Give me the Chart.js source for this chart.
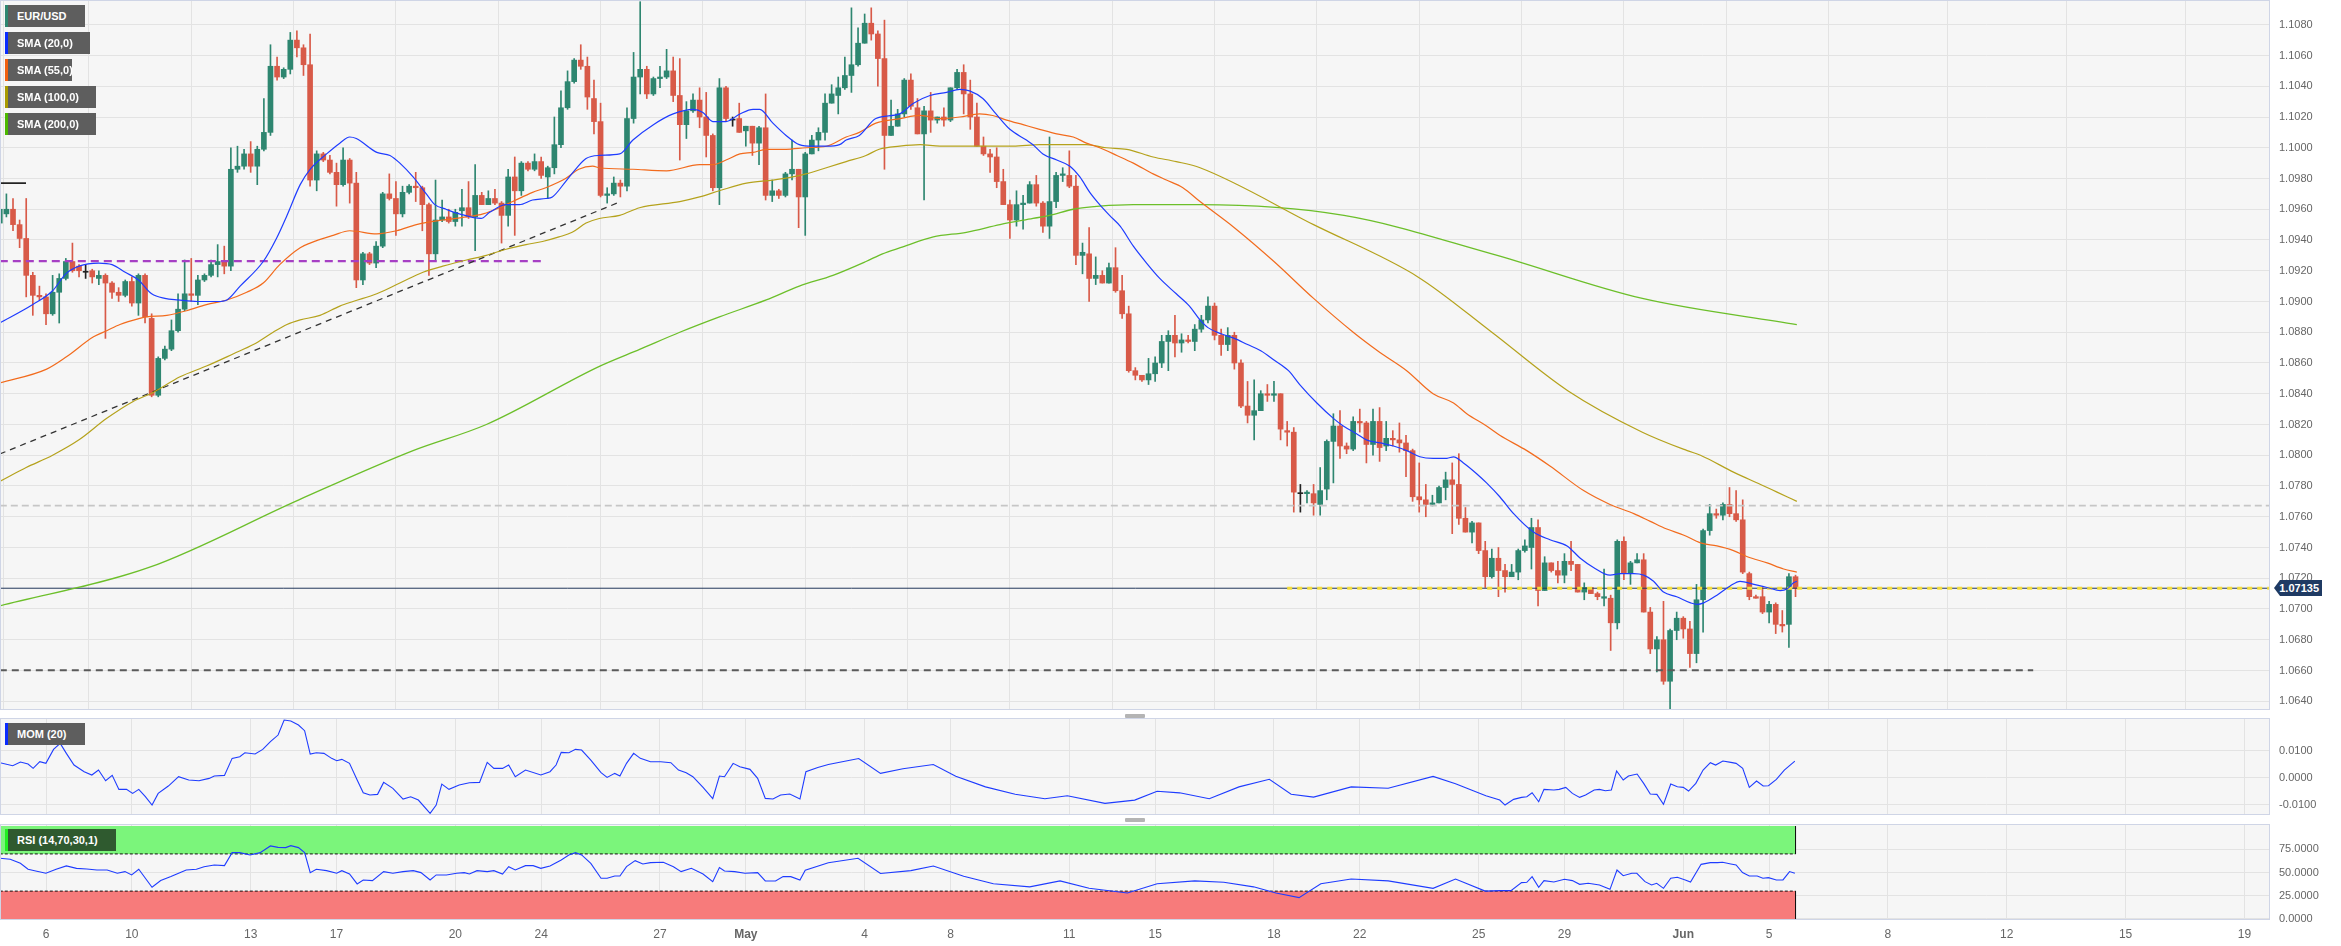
<!DOCTYPE html>
<html><head><meta charset="utf-8">
<script src="https://cdn.jsdelivr.net/npm/chart.js@4.4.0/dist/chart.umd.min.js"></script>
<style>
body{margin:0;background:#fff;width:2341px;height:946px;overflow:hidden;position:relative;font-family:"Liberation Sans",Arial,sans-serif}
canvas{position:absolute;left:0}
.tag{position:absolute;left:5px;height:22px;line-height:22px;background:#5e5e5e;color:#fff;font-size:11px;font-weight:bold;padding:0 12px 0 12px;box-sizing:border-box;white-space:nowrap}
.tag i{position:absolute;left:0;top:0;width:3px;height:100%}
.handle{position:absolute;width:20px;height:4px;background:#b4b4b4;border-radius:1px}
#ptag{position:absolute;left:2274px;top:580px;width:48px;height:16px;background:#1f3a63;color:#fff;font-size:11px;font-weight:bold;line-height:16px;text-align:right;padding-right:3px;box-sizing:border-box;clip-path:polygon(0 50%,6px 0,100% 0,100% 100%,6px 100%)}
</style></head><body>
<canvas id="c1" width="2341" height="710" style="top:0"></canvas>
<canvas id="c2" width="2341" height="97" style="top:718px"></canvas>
<canvas id="c3" width="2341" height="122" style="top:824px"></canvas>

<div class="tag" style="top:5px;width:80px"><i style="background:#2e8670"></i>EUR/USD</div>
<div class="tag" style="top:32px;width:85px"><i style="background:#0a2cff"></i>SMA (20,0)</div>
<div class="tag" style="top:59px;width:67px"><i style="background:#f06010"></i>SMA (55,0)</div>
<div class="tag" style="top:86px;width:91px"><i style="background:#a89a00"></i>SMA (100,0)</div>
<div class="tag" style="top:113px;width:91px"><i style="background:#4cb800"></i>SMA (200,0)</div>
<div class="tag" style="top:723px;width:80px"><i style="background:#0a2cff"></i>MOM (20)</div>
<div class="tag" style="top:829px;width:111px;background:#2f5a2f"><i style="background:#22ee22"></i>RSI (14,70,30,1)</div>
<div class="handle" style="left:1125px;top:714px"></div>
<div class="handle" style="left:1125px;top:818px"></div>
<div id="ptag">1.07135</div>

<script>
// ---------- categories / x axis ----------
const candleStart = -7;            // index of first visible 4h candle (0 = 6 Apr 00:00)
const xLabelIdx  = [0,13,31,44,62,75,93,106,124,137,155,168,186,199,217,230,248,261,279,297,315,333];
const xLabelText = ['6','10','13','17','20','24','27','May','4','8','11','15','18','22','25','29','Jun','5','8','12','15','19'];
const boldLabels = ['May','Jun'];

// ---------- tick labels ----------
const priceTicks = [1.0640,1.0660,1.0680,1.0700,1.0720,1.0740,1.0760,1.0780,1.0800,1.0820,1.0840,1.0860,1.0880,1.0900,1.0920,1.0940,1.0960,1.0980,1.1000,1.1020,1.1040,1.1060,1.1080];
const momTicks = [-0.01, 0, 0.01];
const rsiTicks = [0, 25, 50, 75];

// ---------- EUR/USD 4h OHLC ----------
const opens = [1.0951,1.0957,1.0960,1.0950,1.0941,1.0917,1.0904,1.0903,1.0892,1.0906,1.0915,1.0926,1.0923,1.0919,1.0920,1.0915,1.0917,1.0912,1.0906,1.0904,1.0913,1.0899,1.0917,1.0889,1.0839,1.0863,1.0869,1.0881,1.0895,1.0905,1.0904,1.0914,1.0917,1.0924,1.0926,1.0923,1.0986,1.0988,1.0996,1.0988,1.0999,1.1010,1.1053,1.1046,1.1051,1.1070,1.1065,1.1054,1.0979,1.0996,1.0992,1.0984,1.0976,1.0992,1.0977,1.0914,1.0931,1.0925,1.0936,1.0970,1.0967,1.0957,1.0971,1.0975,1.0974,1.0963,1.0931,1.0953,1.0955,1.0952,1.0959,1.0961,1.0955,1.0969,1.0963,1.0967,1.0964,1.0956,1.0981,1.0972,1.0990,1.0986,1.0991,1.0981,1.0987,1.1002,1.1026,1.1043,1.1057,1.1053,1.1032,1.1017,1.0969,1.0970,1.0977,1.0975,1.1019,1.1046,1.1051,1.1035,1.1045,1.1046,1.1050,1.1034,1.1015,1.1024,1.1031,1.1020,1.1008,1.0974,1.1039,1.1018,1.1019,1.1011,1.1014,1.1003,1.1013,1.0969,1.0972,1.0969,1.0983,1.0986,1.0968,1.0996,1.1005,1.1010,1.1029,1.1034,1.1039,1.1047,1.1054,1.1068,1.1081,1.1074,1.1058,1.1008,1.1014,1.1022,1.1044,1.1026,1.1009,1.1024,1.1018,1.1020,1.1018,1.1039,1.1049,1.1035,1.1020,1.1001,1.0996,1.0994,1.0978,1.0963,1.0953,1.0963,1.0964,1.0976,1.0964,1.0949,1.0965,1.0982,1.0982,1.0975,1.0930,1.0931,1.0915,1.0917,1.0912,1.0922,1.0907,1.0892,1.0855,1.0852,1.0849,1.0853,1.0860,1.0874,1.0878,1.0873,1.0875,1.0874,1.0882,1.0888,1.0897,1.0878,1.0872,1.0878,1.0860,1.0832,1.0826,1.0829,1.0840,1.0839,1.0840,1.0816,1.0815,1.0775,1.0775,1.0775,1.0768,1.0778,1.0809,1.0819,1.0806,1.0804,1.0822,1.0821,1.0807,1.0822,1.0806,1.0811,1.0810,1.0808,1.0803,1.0773,1.0771,1.0768,1.0769,1.0779,1.0784,1.0781,1.0759,1.0750,1.0756,1.0738,1.0721,1.0733,1.0725,1.0721,1.0724,1.0738,1.0740,1.0753,1.0712,1.0730,1.0725,1.0722,1.0731,1.0729,1.0711,1.0714,1.0710,1.0707,1.0707,1.0691,1.0744,1.0723,1.0730,1.0732,1.0698,1.0674,1.0680,1.0653,1.0686,1.0694,1.0687,1.0671,1.0706,1.0751,1.0762,1.0761,1.0768,1.0762,1.0758,1.0723,1.0708,1.0708,1.0698,1.0703,1.0690,1.0690,1.0721];
const highs = [1.0962,1.0970,1.0967,1.0953,1.0967,1.0919,1.0910,1.0905,1.0917,1.0918,1.0928,1.0938,1.0924,1.0924,1.0921,1.0920,1.0918,1.0913,1.0909,1.0914,1.0916,1.0918,1.0918,1.0892,1.0864,1.0871,1.0888,1.0905,1.0927,1.0928,1.0917,1.0918,1.0927,1.0937,1.0936,1.1000,1.1001,1.0999,1.1004,1.1001,1.1032,1.1067,1.1059,1.1052,1.1075,1.1076,1.1067,1.1074,1.0998,1.0997,1.0995,1.0990,1.1000,1.0993,1.0984,1.0932,1.0932,1.0939,1.0971,1.0983,1.0978,1.0975,1.0976,1.0984,1.0975,1.0964,1.0979,1.0966,1.0960,1.0960,1.0973,1.0978,1.0989,1.0971,1.0972,1.0973,1.0965,1.0986,1.0994,1.0991,1.0991,1.0996,1.0994,1.0988,1.1020,1.1037,1.1050,1.1058,1.1067,1.1059,1.1044,1.1029,1.0974,1.0981,1.0979,1.1026,1.1062,1.1095,1.1053,1.1046,1.1053,1.1064,1.1059,1.1058,1.1030,1.1035,1.1039,1.1036,1.1009,1.1045,1.1040,1.1020,1.1029,1.1014,1.1014,1.1014,1.1035,1.0979,1.0973,1.0984,1.1005,1.0986,1.0997,1.1008,1.1013,1.1035,1.1041,1.1046,1.1059,1.1091,1.1078,1.1087,1.1091,1.1076,1.1083,1.1031,1.1025,1.1045,1.1048,1.1032,1.1027,1.1036,1.1020,1.1026,1.1039,1.1051,1.1054,1.1044,1.1029,1.1007,1.0999,1.1000,1.0986,1.0966,1.0972,1.0969,1.0978,1.0982,1.0965,1.1007,1.0984,1.0987,1.0998,1.0982,1.0938,1.0948,1.0929,1.0920,1.0925,1.0935,1.0917,1.0897,1.0857,1.0852,1.0863,1.0864,1.0878,1.0881,1.0891,1.0879,1.0878,1.0885,1.0891,1.0903,1.0899,1.0882,1.0883,1.0880,1.0862,1.0848,1.0849,1.0842,1.0846,1.0848,1.0840,1.0822,1.0818,1.0781,1.0777,1.0781,1.0792,1.0810,1.0827,1.0829,1.0808,1.0825,1.0830,1.0822,1.0830,1.0831,1.0822,1.0816,1.0821,1.0813,1.0804,1.0795,1.0781,1.0774,1.0780,1.0789,1.0795,1.0801,1.0766,1.0757,1.0756,1.0744,1.0739,1.0740,1.0729,1.0729,1.0739,1.0745,1.0759,1.0758,1.0734,1.0730,1.0731,1.0736,1.0744,1.0729,1.0717,1.0714,1.0711,1.0726,1.0709,1.0745,1.0747,1.0731,1.0736,1.0736,1.0701,1.0682,1.0705,1.0687,1.0698,1.0695,1.0692,1.0716,1.0752,1.0768,1.0765,1.0769,1.0779,1.0777,1.0771,1.0724,1.0709,1.0714,1.0705,1.0704,1.0699,1.0723,1.0722];
const lows = [1.0950,1.0955,1.0946,1.0935,1.0903,1.0891,1.0901,1.0885,1.0891,1.0886,1.0914,1.0919,1.0916,1.0915,1.0912,1.0911,1.0876,1.0902,1.0900,1.0903,1.0897,1.0891,1.0886,1.0838,1.0838,1.0862,1.0868,1.0880,1.0894,1.0900,1.0898,1.0913,1.0916,1.0916,1.0918,1.0920,1.0984,1.0986,1.0984,1.0976,1.0998,1.1008,1.1044,1.1045,1.1048,1.1059,1.1047,1.0975,1.0972,1.0991,1.0983,1.0962,1.0975,1.0964,1.0909,1.0911,1.0924,1.0922,1.0935,1.0966,1.0943,1.0955,1.0970,1.0965,1.0946,1.0917,1.0927,1.0952,1.0951,1.0949,1.0949,1.0954,1.0933,1.0963,1.0963,1.0963,1.0938,1.0949,1.0943,1.0969,1.0985,1.0985,1.0980,1.0967,1.0983,1.1000,1.1025,1.1042,1.1051,1.1025,1.1009,1.0968,1.0964,1.0969,1.0968,1.0972,1.1016,1.1035,1.1032,1.1034,1.1039,1.1045,1.1030,1.0992,1.1006,1.1023,1.1013,1.0994,1.0972,1.0963,1.1017,1.1014,1.1010,1.1001,1.0995,1.0989,1.0966,1.0965,1.0967,1.0968,1.0979,1.0948,1.0943,1.0996,1.0998,1.1005,1.1029,1.1022,1.1038,1.1036,1.1053,1.1068,1.1070,1.1040,1.0986,1.1008,1.1014,1.1020,1.1025,1.1009,1.0966,1.1010,1.1016,1.1014,1.1017,1.1038,1.1022,1.1012,1.1001,1.0995,1.0984,1.0974,1.0963,1.0941,1.0949,1.0947,1.0964,1.0962,1.0945,1.0941,1.0961,1.0978,1.0974,1.0924,1.0918,1.0900,1.0911,1.0912,1.0912,1.0906,1.0889,1.0854,1.0849,1.0848,1.0846,1.0848,1.0857,1.0855,1.0864,1.0867,1.0873,1.0868,1.0880,1.0886,1.0875,1.0865,1.0868,1.0856,1.0831,1.0821,1.0810,1.0829,1.0835,1.0835,1.0810,1.0806,1.0763,1.0763,1.0769,1.0761,1.0761,1.0771,1.0782,1.0798,1.0801,1.0803,1.0815,1.0795,1.0800,1.0796,1.0803,1.0806,1.0802,1.0786,1.0770,1.0763,1.0760,1.0767,1.0769,1.0771,1.0749,1.0755,1.0750,1.0743,1.0736,1.0714,1.0720,1.0708,1.0711,1.0721,1.0719,1.0737,1.0726,1.0702,1.0712,1.0724,1.0717,1.0717,1.0725,1.0711,1.0706,1.0710,1.0706,1.0702,1.0673,1.0687,1.0719,1.0716,1.0730,1.0698,1.0671,1.0659,1.0651,1.0635,1.0680,1.0681,1.0662,1.0665,1.0685,1.0748,1.0759,1.0758,1.0760,1.0757,1.0723,1.0706,1.0707,1.0697,1.0691,1.0684,1.0685,1.0675,1.0708];
const closes = [1.0960,1.0960,1.0950,1.0941,1.0917,1.0904,1.0903,1.0892,1.0906,1.0915,1.0926,1.0920,1.0920,1.0919,1.0916,1.0917,1.0912,1.0906,1.0904,1.0913,1.0899,1.0917,1.0890,1.0839,1.0863,1.0869,1.0881,1.0895,1.0905,1.0904,1.0914,1.0917,1.0924,1.0926,1.0923,1.0986,1.0988,1.0996,1.0988,1.0999,1.1010,1.1053,1.1046,1.1051,1.1070,1.1065,1.1054,1.0979,1.0996,1.0992,1.0984,1.0976,1.0992,1.0977,1.0914,1.0931,1.0925,1.0936,1.0970,1.0967,1.0957,1.0971,1.0975,1.0974,1.0963,1.0931,1.0953,1.0955,1.0952,1.0958,1.0961,1.0955,1.0969,1.0963,1.0967,1.0964,1.0956,1.0981,1.0972,1.0990,1.0986,1.0991,1.0982,1.0987,1.1002,1.1026,1.1043,1.1057,1.1053,1.1033,1.1017,1.0969,1.0970,1.0977,1.0975,1.1019,1.1046,1.1051,1.1035,1.1045,1.1046,1.1050,1.1034,1.1015,1.1024,1.1031,1.1020,1.1008,1.0974,1.1039,1.1019,1.1018,1.1010,1.1014,1.1003,1.1013,1.0969,1.0972,1.0969,1.0983,1.0986,1.0968,1.0996,1.1005,1.1010,1.1029,1.1035,1.1039,1.1047,1.1054,1.1068,1.1081,1.1074,1.1058,1.1008,1.1014,1.1022,1.1044,1.1027,1.1009,1.1024,1.1018,1.1020,1.1018,1.1039,1.1049,1.1035,1.1020,1.1001,1.0996,1.0994,1.0978,1.0963,1.0953,1.0963,1.0964,1.0976,1.0964,1.0949,1.0965,1.0982,1.0983,1.0975,1.0930,1.0932,1.0915,1.0917,1.0912,1.0922,1.0907,1.0892,1.0855,1.0852,1.0849,1.0853,1.0860,1.0874,1.0878,1.0873,1.0875,1.0874,1.0882,1.0888,1.0897,1.0878,1.0872,1.0878,1.0860,1.0832,1.0826,1.0829,1.0840,1.0839,1.0840,1.0817,1.0815,1.0776,1.0775,1.0776,1.0769,1.0777,1.0809,1.0819,1.0806,1.0804,1.0822,1.0821,1.0807,1.0822,1.0805,1.0811,1.0810,1.0808,1.0803,1.0773,1.0771,1.0768,1.0769,1.0779,1.0784,1.0781,1.0759,1.0750,1.0756,1.0738,1.0721,1.0733,1.0725,1.0721,1.0724,1.0738,1.0741,1.0753,1.0712,1.0730,1.0725,1.0722,1.0731,1.0729,1.0711,1.0714,1.0710,1.0708,1.0708,1.0691,1.0744,1.0723,1.0730,1.0732,1.0698,1.0674,1.0680,1.0653,1.0686,1.0694,1.0687,1.0671,1.0706,1.0751,1.0762,1.0761,1.0768,1.0762,1.0758,1.0724,1.0708,1.0707,1.0698,1.0703,1.0690,1.0689,1.0721,1.07135];

// ---------- moving averages (read at sample positions) ----------
const sma20X = [-7,-2,1,3,5,8,10,12,14,16,18,20,23,26,27.4,29.4,32.9,34.9,36.5,38.5,40,42.5,44.5,46,47,50.1,52.1,53.6,55.6,57.6,58.9,60.6,62.6,65.9,67.2,69.7,71.7,73.7,75.7,76.7,78.7,80.2,81.8,83.8,86.9,88.9,92,95,98,99.5,101,103,105.1,107.1,108.1,110.1,112.1,114.1,116.1,118.2,120.2,121.2,123.2,125.7,129.3,131.4,133.9,136.4,138.4,139.9,141.9,143.9,146,148.5,149.5,151,153.1,155.1,156.6,158.1,159.6,161.1,162.7,164.7,166.7,168.7,171.2,173.2,174.8,176,178,180,182,184,186,188.2,189.9,192.5,195,196.5,198.5,200,202.1,204.1,206.1,208.1,210.1,212.2,213.2,214.7,216.7,218.2,220.2,222.3,225.3,227.8,230.4,232.4,234.4,236.9,238.5,240.5,242,243.5,245,247,249.1,250.1,251.1,253.1,255.1,256.6,258.7,260.7,262.7,263.7,264.7,265.2];
const sma20Y = [1.0886,1.0898,1.0907,1.0918,1.0923,1.0925,1.0924,1.0919,1.0914,1.0905,1.0902,1.0901,1.0900,1.0900,1.0901,1.0910,1.0926,1.0941,1.0956,1.0976,1.0986,1.0996,1.1003,1.1007,1.1006,1.0997,1.0995,1.0990,1.0981,1.0970,1.0963,1.0960,1.0957,1.0954,1.0958,1.0963,1.0963,1.0966,1.0967,1.0968,1.0978,1.0986,1.0993,1.0995,1.0996,1.1005,1.1015,1.1022,1.1025,1.1023,1.1017,1.1017,1.1022,1.1025,1.1025,1.1016,1.1008,1.1002,1.1001,1.1001,1.1002,1.1005,1.1008,1.1019,1.1022,1.1029,1.1034,1.1036,1.1038,1.1037,1.1032,1.1022,1.1012,1.1005,1.1002,1.0996,1.0992,1.0988,1.0981,1.0971,1.0963,1.0956,1.0949,1.0936,1.0925,1.0915,1.0905,1.0897,1.0888,1.0883,1.0879,1.0876,1.0872,1.0868,1.0862,1.0855,1.0846,1.0834,1.0824,1.0819,1.0814,1.0810,1.0808,1.0806,1.0803,1.0799,1.0798,1.0798,1.0799,1.0795,1.0788,1.0782,1.0773,1.0762,1.0750,1.0745,1.0741,1.0733,1.0727,1.0722,1.0723,1.0723,1.0722,1.0718,1.0711,1.0708,1.0704,1.0703,1.0704,1.0709,1.0715,1.0718,1.0716,1.0714,1.0712,1.0713,1.0717,1.0718];
const sma55X = [-7,0.1,3.1,7.2,9.2,11.2,14.2,15.2,18.3,21.3,24.3,27.4,30.4,32.9,35.4,38.5,40,43.5,46,50.1,53.1,56.1,60.1,63.7,66.2,68.7,70.7,73.7,75.7,78.7,80.7,82.8,83.8,88.9,94,99,101,103,105.1,107.1,109.1,112.1,115.1,118.2,121.2,123.2,125.7,129.4,132.4,135.4,138.4,141.4,143.4,145.5,148,150.5,153.1,155.6,157.6,159.6,162.2,164.7,167.7,169.7,172.2,174.8,180,186,192,198,202,206.1,210.1,213.2,215.2,218.2,220.2,224.3,227.8,232.9,236.9,240.5,243,245.5,248.1,250.6,253.1,255.6,257.7,260.7,263.2,265.2];
const sma55Y = [1.0847,1.0856,1.0864,1.0877,1.0881,1.0885,1.0889,1.0890,1.0891,1.0894,1.0898,1.0901,1.0906,1.0912,1.0924,1.0935,1.0938,1.0943,1.0946,1.0944,1.0946,1.0950,1.0953,1.0955,1.0957,1.0961,1.0965,1.0971,1.0974,1.0980,1.0986,1.0988,1.0987,1.0986,1.0985,1.0989,1.0989,1.0992,1.0996,1.0997,1.0999,1.0999,1.1000,1.1001,1.1007,1.1010,1.1016,1.1019,1.1021,1.1019,1.1020,1.1022,1.1021,1.1018,1.1015,1.1012,1.1009,1.1007,1.1003,1.1000,1.0995,1.0990,1.0983,1.0979,1.0974,1.0965,1.0948,1.0926,1.0902,1.0880,1.0867,1.0855,1.0840,1.0834,1.0827,1.0819,1.0813,1.0803,1.0793,1.0777,1.0768,1.0762,1.0757,1.0752,1.0748,1.0743,1.0741,1.0738,1.0734,1.0730,1.0726,1.0724];
const sma100X = [-7,-3,1,5,9.2,13.2,16.3,20.3,24.3,28.4,31.4,34.4,36.5,38.5,41.5,44.5,46.5,50.1,53.6,57.1,60.1,63.7,66.7,69.7,72.7,75.2,77.7,79.7,81.8,83.8,86.9,89.9,96,99,102,106.1,110.1,113.1,115.1,118.2,121.2,124.2,126.2,129.3,132.4,135.4,139.4,142.4,146.5,150.5,154.6,157.6,160.6,163.7,167.7,171.2,174.8,192,207.8,219,230.5,241.8,248.6,250.6,255.6,259.7,262.2,263.7,265.2];
const sma100Y = [1.0783,1.0792,1.0800,1.0810,1.0824,1.0835,1.0841,1.0851,1.0858,1.0866,1.0872,1.0880,1.0885,1.0888,1.0891,1.0897,1.0900,1.0905,1.0912,1.0919,1.0923,1.0927,1.0930,1.0934,1.0937,1.0939,1.0942,1.0945,1.0951,1.0954,1.0956,1.0961,1.0965,1.0968,1.0972,1.0977,1.0979,1.0981,1.0983,1.0987,1.0991,1.0995,1.0999,1.1001,1.1002,1.1001,1.1001,1.1001,1.1001,1.1002,1.1002,1.1002,1.1000,1.0999,1.0994,1.0991,1.0987,1.0950,1.0916,1.0880,1.0842,1.0815,1.0803,1.0800,1.0789,1.0781,1.0776,1.0773,1.0770];
const sma200X = [-7,15.6,38.3,55.6,66.7,83.9,90,96,102,109.1,114.1,119.2,124.2,126.7,129.4,134.4,139.4,144.5,149.5,152,155.6,159.6,164.7,169.7,174.8,196.6,219,241.8,265.2];
const sma200Y = [1.0702,1.0727,1.0771,1.0803,1.0820,1.0858,1.0869,1.0880,1.0890,1.0901,1.0910,1.0917,1.0926,1.0931,1.0935,1.0942,1.0945,1.0950,1.0954,1.0956,1.0960,1.0962,1.0963,1.0963,1.0963,1.0956,1.0931,1.0902,1.0885];

// ---------- MOM(20) ----------
const momX = [-6.97,-5.04,-3.88,-2.72,-1.95,-0.94,-0.02,1.14,2.15,3.08,4.24,5.78,6.94,7.95,9.03,10.03,11.04,12.19,13.12,14.05,15.05,16.06,16.99,18.53,20.08,21.62,23.17,24.71,25.49,27.03,28.19,29.35,30.12,31.67,32.83,33.99,35.15,36.07,37.08,38.24,39.17,40.02,40.94,42.1,43.26,44.03,44.81,45.97,47.13,48.05,49.06,50.22,51.14,52.54,54.08,55.24,56.4,58.18,59.1,59.95,61.04,62.58,64.13,65.67,66.83,67.84,69.15,70.08,71.08,72.63,74.95,76.34,77.26,78.04,79.2,80.2,81.13,82.52,84.07,84.99,86.15,86.93,87.93,89.01,90.02,91.56,93.11,94.65,95.81,96.97,97.98,99.52,100.99,102,102.77,104.08,105.09,106.63,107.79,108.95,110.11,111.27,112.66,114.2,115.1,116.9,118.5,120.8,123.1,126.4,129.8,134.4,137.8,142.3,146.8,151.3,154.7,160.4,164.9,168.3,171.7,176.2,180.7,185.3,188.6,192,197.7,203.3,210.1,213.5,218.1,220.2,221,222.3,223.5,224.3,225.1,226.1,226.9,228.4,229.2,230.2,231.2,232.3,233.2,234.5,235.3,236.2,237.1,237.9,238.9,239.7,241,242,243,244,245,246.1,247.1,248,248.8,249.9,251,252.1,252.9,254,255.2,256,257,258,259.1,260.1,260.9,262.1,263.3,264.9];
const momY = [0.00556,0.00444,0.0058,0.00506,0.00346,0.00593,0.00531,0.01049,0.01272,0.00901,0.00469,0.00222,0.00099,0.00284,-0.00111,0.00086,-0.00432,-0.00432,-0.0058,-0.00432,-0.00704,-0.01012,-0.0058,-0.00309,0.00037,-0.00086,-0.00111,-0.00025,0.00062,0.00086,0.00716,0.00778,0.00926,0.00877,0.01049,0.01333,0.0158,0.02136,0.02099,0.01951,0.01741,0.00877,0.00926,0.00901,0.00716,0.0063,0.00679,0.00531,-0.00086,-0.00556,-0.00642,-0.00617,-0.00173,-0.00395,-0.0079,-0.00704,-0.00827,-0.01321,-0.01012,-0.00235,-0.00432,-0.00272,-0.00185,-0.00173,0.00568,0.00346,0.00346,0.00469,0.00037,0.00284,0.00099,0.00222,0.00469,0.00938,0.00926,0.01049,0.01025,0.00654,0.00185,0.00012,0.0016,0.00062,0.00531,0.00901,0.00716,0.00593,0.00593,0.00556,0.00284,0.00185,0.00037,-0.00358,-0.00778,0.00062,0.00037,0.00531,0.00407,0.00309,-0.00025,-0.00765,-0.0079,-0.00642,-0.00605,-0.0079,0.0022,0.0038,0.0049,0.006,0.0071,0.0016,0.0033,0.0049,0.0005,-0.0034,-0.0061,-0.0078,-0.0067,-0.0095,-0.0083,-0.005,-0.0056,-0.0078,-0.0034,-0.0006,-0.0061,-0.0072,-0.0034,-0.0039,0.0005,-0.0022,-0.0067,-0.00827,-0.01012,-0.00802,-0.00728,-0.00704,-0.00556,-0.00889,-0.00432,-0.00457,-0.00432,-0.00358,-0.0058,-0.00728,-0.00642,-0.00457,-0.00432,-0.00481,-0.00457,0.00247,-0.00086,0.00062,0.00136,-0.0021,-0.00605,-0.00617,-0.00988,-0.00235,-0.00333,-0.00358,-0.00494,-0.0021,0.00284,0.00556,0.00469,0.00617,0.00568,0.00531,0.00346,-0.00358,-0.00123,-0.00309,-0.00296,-0.00062,0.00284,0.00617];

// ---------- RSI(14) ----------
const rsiX = [-6.97,-5.42,-3.88,-2.72,-1.56,-0.02,1.53,3.08,4.62,6.17,7.71,9.26,10.8,11.96,12.97,14.05,15.05,16.06,17.37,18.92,20.08,21.24,22.78,23.94,25.49,27.03,28.19,29.35,30.9,32.44,33.99,35.15,36.31,37.08,38.24,39.17,40.02,40.94,42.49,44.03,44.81,45.97,47.13,48.05,49.44,51.14,52.54,54.08,55.63,56.79,58.18,59.1,60.65,62.2,63.35,64.13,65.29,66.83,67.84,69.15,70.08,71.08,72.63,73.79,74.95,76.34,78.04,79.2,80.2,81.13,82.52,84.07,84.99,86.15,86.93,87.93,89.24,90.4,91.56,93.5,95.04,96.2,97.75,99.52,100.99,102,102.77,104.31,105.86,107.79,108.95,110.5,111.65,112.81,114.2,115,118.5,123,126.4,131,134.4,139,143.5,149,153.6,158,163.8,168.3,174,178.4,182.9,186.3,189.8,193.1,197.7,203.3,210.1,213.5,218,220.24,221.9,223.5,224.3,225.1,226.1,226.9,228.4,230,231.2,232.3,233.6,235.3,236.9,237.96,238.9,240.2,240.96,242.2,243.2,243.97,245,246.1,247.1,248.3,249.1,250.7,252.1,253.2,253.96,255.2,256,256.97,258,259.2,260.06,260.9,262.1,263.1,264.1,264.9];
const rsiY = [65.3,64.2,59.9,53.5,51.7,49.2,53.5,57.1,54.5,53.8,52.7,52.7,49.2,51,47.4,53.5,43.8,34.1,41.3,45.6,49.2,52.7,53.5,56.3,58.1,57.4,71.4,71.4,68.9,71.4,78.6,77.1,76.8,78.9,76.8,71.4,49.9,53.5,52,49.2,52,48.4,37.7,42,41.3,51,49.2,51,52,49.9,42,47.4,47.4,49.2,49.9,48.4,52,51,52,48.4,56.3,52.7,57.4,57.4,54.5,57.1,63.5,68.9,71.4,68.9,59.9,43.8,43.8,46.3,46.3,56.3,62.8,59.2,60.6,61,56.3,51,54.5,48.4,40.2,55.3,51.7,51,49.2,49.9,40.9,40.9,45.6,45.6,42,52.4,60.5,65.4,49,52,57,46,38,34.6,41,33,28,38,41,39.5,34.6,28,23,38,43,41,33,43,30,30.5,30.5,39.1,39.5,45.6,34.1,41.3,39.8,42.7,41.3,37.3,38.4,36.6,31.9,52.7,46.6,49.2,49.2,40.2,36.6,38.4,33,43.8,44.9,42,39.8,58.8,60.6,60.6,61,59.2,58.1,49.9,46.3,46.3,43.8,44.5,42,42,51,49.2];
const rsiUpper = 70, rsiLower = 30, rsiTop = 100, rsiBottom = 0;

// ---------- drawn levels ----------
const lastPrice = 1.07135;
const levelGray = 1.07672, levelDark = 1.06602, levelPurple = 1.09263, levelBlack = 1.0977;
const trendX = [-7, 86.9], trendY = [1.08008, 1.09647];

// ===================================================================
const GREEN = '#2e8670', RED = '#d85a48';
const X_MIN = -6.97, X_MAX = 336.87, AXIS_W = 71;
const FONT = '"Liberation Sans", Arial, sans-serif';
const GRID = '#e3e3e3';

const idx = opens.map((_, i) => candleStart + i);
const candleColor = idx.map((_, i) => closes[i] > opens[i] ? GREEN : (closes[i] < opens[i] ? RED : '#222'));
const pts = (xs, ys) => xs.map((x, i) => ({x, y: ys[i]}));
const flat = (x0, x1, y) => [{x: x0, y}, {x: x1, y}];

const panelPlugin = {
  id: 'panel',
  beforeDraw(chart) {
    const {ctx, chartArea: a} = chart;
    ctx.save(); ctx.fillStyle = '#f6f6f6';
    ctx.fillRect(a.left, a.top, a.right - a.left, a.bottom - a.top); ctx.restore();
  },
  afterDraw(chart) {
    const {ctx, chartArea: a} = chart;
    ctx.save(); ctx.strokeStyle = '#cfd5e6'; ctx.lineWidth = 1;
    ctx.strokeRect(a.left + 0.5, a.top + 0.5, a.right - a.left - 1, a.bottom - a.top - 1); ctx.restore();
  }
};

function xScale(showLabels) {
  return {
    type: 'linear', min: X_MIN, max: X_MAX, offset: false,
    afterBuildTicks: s => { s.ticks = xLabelIdx.map(v => ({value: v})); },
    afterFit: s => { s.height = showLabels ? 26 : 0; s.paddingLeft = 0; s.paddingRight = 0; },
    grid: {color: GRID, drawTicks: false}, border: {display: false},
    ticks: {
      display: showLabels, autoSkip: false, maxRotation: 0, padding: 7,
      color: '#666',
      font: c => ({family: FONT, size: 12, weight: boldLabels.includes(xLabelText[xLabelIdx.indexOf(c.tick && c.tick.value)]) ? 'bold' : 'normal'}),
      callback: v => { const k = xLabelIdx.indexOf(v); return k >= 0 ? xLabelText[k] : ''; }
    }
  };
}
function yScale(min, max, ticks, fmt) {
  return {
    position: 'right', min, max,
    afterBuildTicks: s => { s.ticks = ticks.map(v => ({value: v})); },
    afterFit: s => { s.width = AXIS_W; s.paddingTop = 0; s.paddingBottom = 0; },
    grid: {color: GRID, drawTicks: false}, border: {display: false},
    ticks: {padding: 9, color: '#666', font: {family: FONT, size: 11}, callback: fmt}
  };
}
const baseOpts = {
  responsive: false, animation: false, events: [],
  layout: {padding: 0},
  plugins: {legend: {display: false}, tooltip: {enabled: false}}
};
const lineDs = (data, color, width, extra) => Object.assign({
  type: 'line', data, borderColor: color, borderWidth: width, pointRadius: 0,
  fill: false, tension: 0, order: 1
}, extra || {});

// ---------- main price chart ----------
new Chart(document.getElementById('c1'), {
  type: 'bar',
  data: {
    datasets: [
      lineDs(pts(sma20X, sma20Y), '#1e3cff', 1.2, {cubicInterpolationMode: 'monotone'}),
      lineDs(pts(sma55X, sma55Y), '#f26b1d', 1.2, {cubicInterpolationMode: 'monotone'}),
      lineDs(pts(sma100X, sma100Y), '#b5a21c', 1.2, {cubicInterpolationMode: 'monotone'}),
      lineDs(pts(sma200X, sma200Y), '#6cbf2a', 1.3, {cubicInterpolationMode: 'monotone'}),
      lineDs(pts(trendX, trendY), '#333', 1.3, {borderDash: [6, 5], order: 2}),
      lineDs(flat(-7, -3.03, levelBlack), '#000', 1.5, {order: 2}),
      lineDs(flat(-7, 75, levelPurple), '#a63fc4', 2.2, {borderDash: [8, 5], order: 2}),
      lineDs(flat(-7, 301, levelDark), '#5a5a5a', 2, {borderDash: [7, 5], order: 2}),
      lineDs(flat(-7, 340, levelGray), '#c6c6c6', 1.6, {borderDash: [7, 4], order: 2}),
      lineDs(flat(188, 340, lastPrice), '#f2dc3a', 3, {borderDash: [5, 5], order: 3}),
      lineDs(flat(-7, 340, lastPrice), '#22365a', 1, {order: 4}),
      {type: 'bar', data: idx.map((x, i) => ({x, y: [opens[i], closes[i]]})), backgroundColor: candleColor,
       barThickness: 5, minBarLength: 1, grouped: false, borderWidth: 0, order: 8},
      {type: 'bar', data: idx.map((x, i) => ({x, y: [lows[i], highs[i]]})), backgroundColor: candleColor,
       barThickness: 1, minBarLength: 1, grouped: false, borderWidth: 0, order: 9}
    ]
  },
  options: Object.assign({}, baseOpts, {
    scales: {x: xScale(false), y: yScale(1.06343, 1.10961, priceTicks, v => v.toFixed(4))}
  }),
  plugins: [panelPlugin]
});

// ---------- MOM panel ----------
new Chart(document.getElementById('c2'), {
  type: 'line',
  data: {datasets: [lineDs(pts(momX, momY), '#1e3cff', 1.1)]},
  options: Object.assign({}, baseOpts, {
    scales: {x: xScale(false), y: yScale(-0.01381, 0.02211, momTicks, v => v.toFixed(4))}
  }),
  plugins: [panelPlugin]
});

// ---------- RSI panel ----------
const lastIdx = candleStart + opens.length - 1;
new Chart(document.getElementById('c3'), {
  type: 'line',
  data: {datasets: [
    lineDs(pts(rsiX, rsiY), '#1e3cff', 1.1, {order: 0}),
    lineDs(flat(-7, lastIdx, rsiTop), 'rgba(0,0,0,0)', 0, {fill: '+1', backgroundColor: '#7bf57b', order: 5}),
    lineDs(flat(-7, lastIdx, rsiUpper), '#111', 1, {borderDash: [3, 2], order: 4}),
    lineDs(flat(-7, lastIdx, rsiLower), '#111', 1, {borderDash: [3, 2], fill: '+1', backgroundColor: '#f77b7b', order: 5}),
    lineDs(flat(-7, lastIdx, rsiBottom), 'rgba(0,0,0,0)', 0, {order: 5}),
    lineDs([{x: lastIdx, y: rsiTop}, {x: lastIdx, y: rsiUpper}], '#111', 1, {order: 3}),
    lineDs([{x: lastIdx, y: rsiLower}, {x: lastIdx, y: rsiBottom}], '#111', 1, {order: 3})
  ]},
  options: Object.assign({}, baseOpts, {
    scales: {x: xScale(true), y: yScale(-1.08, 102.2, rsiTicks, v => v.toFixed(4))}
  }),
  plugins: [panelPlugin]
});
</script>
</body></html>
